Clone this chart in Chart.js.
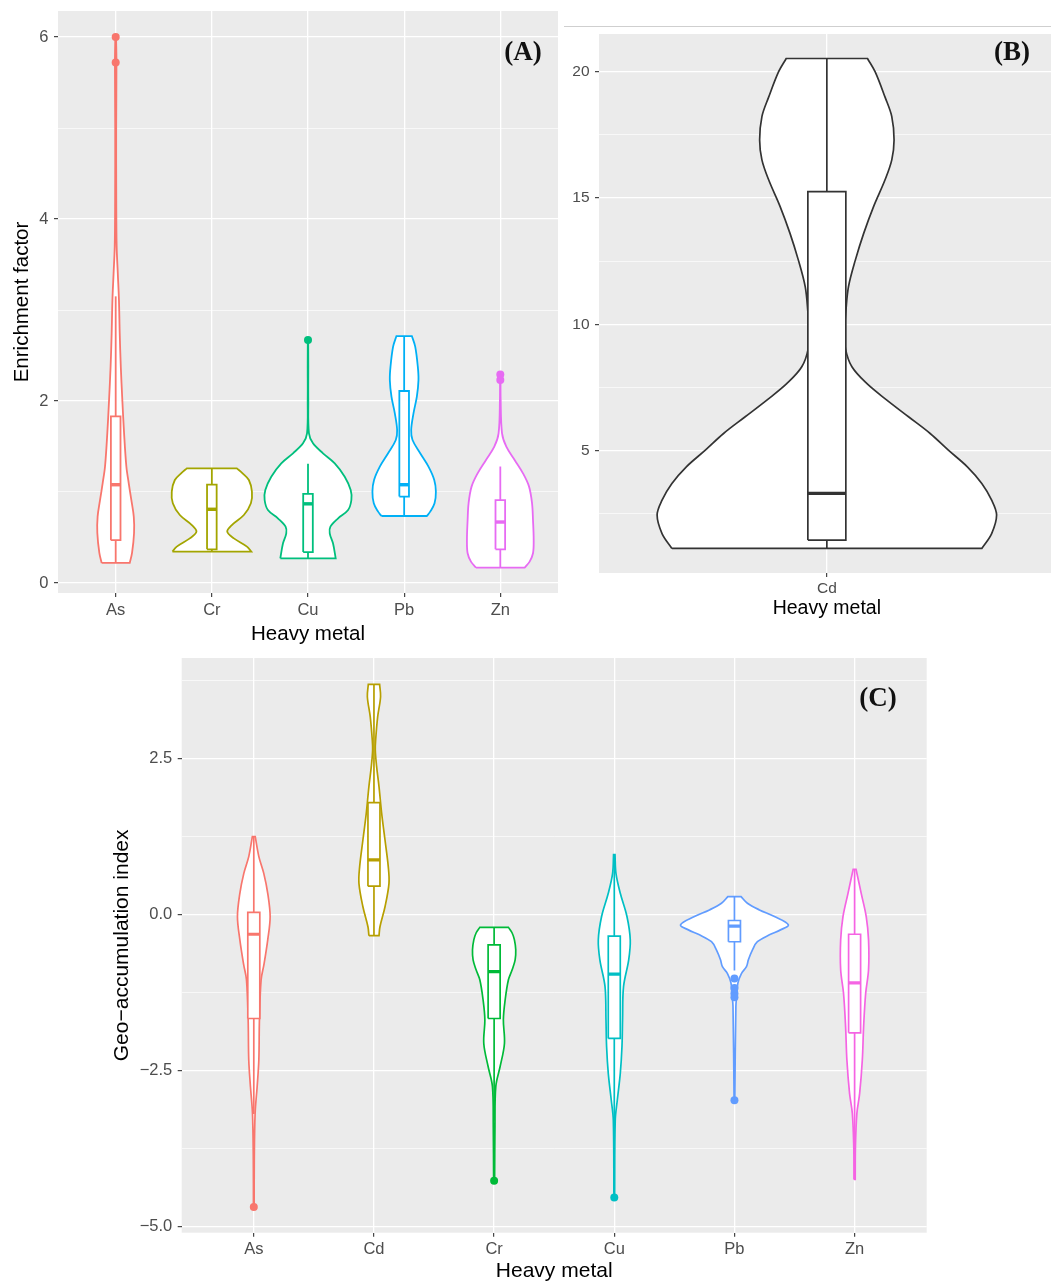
<!DOCTYPE html>
<html>
<head>
<meta charset="utf-8">
<title>Heavy metal enrichment and geo-accumulation</title>
<script src="https://cdn.jsdelivr.net/npm/chart.js@4.4.1/dist/chart.umd.min.js"></script>
<style>
  html, body { margin: 0; padding: 0; background: #ffffff; overflow: hidden; width: 1051px; height: 1284px; }
  canvas.panel { position: absolute; }
  #topRule { position: absolute; left: 564px; top: 26px; width: 487px; height: 1px; background: #cfcfcf; }
</style>
</head>
<body>
<canvas id="efChart" class="panel" width="570" height="647" style="left:0;top:0;width:570px;height:647px"></canvas>
<canvas id="cdChart" class="panel" width="500" height="625" style="left:560px;top:0;width:500px;height:625px"></canvas>
<div id="topRule"></div>
<canvas id="igeoChart" class="panel" width="860" height="644" style="left:100px;top:640px;width:860px;height:644px"></canvas>
<script>
// ---------- (A) Enrichment factor ----------
const efMetals = ['As', 'Cr', 'Cu', 'Pb', 'Zn'];
const efColors = ['#F8766D', '#A3A500', '#00BF7D', '#00B0F6', '#E76BF3'];
const efTicks = [0, 2, 4, 6];
const efTickLabels = ['0', '2', '4', '6'];
const efMinorTicks = [1, 3, 5];
const efQ1 = [0.47, 0.37, 0.34, 0.95, 0.37];
const efMedian = [1.08, 0.81, 0.87, 1.08, 0.67];
const efQ3 = [1.83, 1.08, 0.98, 2.11, 0.91];
const efWhiskerLow = [0.23, 0.345, 0.27, 0.736, 0.17];
const efWhiskerHigh = [3.15, 1.26, 1.31, 2.71, 1.28];
const efOutliers = [[5.72, 6.0], [], [2.67], [], [2.23, 2.29]];
// kernel density outline: [value, half-width in category units]
const efDensityAs = [[0.22, 0.146], [0.33, 0.170], [0.55, 0.191], [0.73, 0.188], [0.91, 0.163], [1.10, 0.135], [1.28, 0.111], [1.65, 0.087], [2.01, 0.069], [2.38, 0.053], [2.74, 0.042], [3.11, 0.034], [3.40, 0.022], [3.70, 0.010], [4.20, 0.006], [5.00, 0.005], [5.72, 0.008], [6.00, 0.004]];
const efDensityCr = [[0.345, 0.41], [0.40, 0.365], [0.49, 0.229], [0.564, 0.16], [0.637, 0.208], [0.747, 0.333], [0.876, 0.406], [1.004, 0.417], [1.132, 0.385], [1.205, 0.32], [1.26, 0.26]];
const efDensityCu = [[0.27, 0.288], [0.436, 0.26], [0.546, 0.226], [0.62, 0.233], [0.711, 0.313], [0.802, 0.417], [0.912, 0.451], [1.022, 0.444], [1.168, 0.382], [1.315, 0.278], [1.425, 0.156], [1.535, 0.052], [1.645, 0.010], [2.01, 0.003], [2.40, 0.003], [2.67, 0.002]];
const efDensityPb = [[0.736, 0.236], [0.784, 0.271], [0.876, 0.316], [1.004, 0.33], [1.132, 0.313], [1.278, 0.253], [1.425, 0.167], [1.571, 0.087], [1.681, 0.073], [1.864, 0.097], [2.048, 0.132], [2.231, 0.149], [2.377, 0.142], [2.597, 0.115], [2.714, 0.08]];
const efDensityZn = [[0.169, 0.253], [0.235, 0.305], [0.327, 0.34], [0.473, 0.347], [0.692, 0.34], [0.876, 0.33], [1.059, 0.299], [1.205, 0.236], [1.352, 0.149], [1.498, 0.0625], [1.645, 0.018], [2.01, 0.004], [2.29, 0.003]];

// ---------- (B) Cd enrichment factor ----------
const cdMetals = ['Cd'];
const cdColors = ['#333333'];
const cdTicks = [5, 10, 15, 20];
const cdTickLabels = ['5', '10', '15', '20'];
const cdMinorTicks = [2.5, 7.5, 12.5, 17.5];
const cdQ1 = [1.46];
const cdMedian = [3.31];
const cdQ3 = [15.25];
const cdWhiskerLow = [1.13];
const cdWhiskerHigh = [20.52];
const cdOutliers = [[]];
const cdDensity = [[1.13, 0.408], [1.72, 0.434], [2.45, 0.447], [3.04, 0.434], [3.70, 0.408], [4.36, 0.37], [5.02, 0.32], [5.68, 0.272], [6.34, 0.215], [7.0, 0.158], [7.66, 0.105], [8.32, 0.066], [9.04, 0.049], [9.77, 0.047], [10.5, 0.05], [11.49, 0.057], [12.54, 0.075], [13.6, 0.097], [14.66, 0.123], [15.71, 0.153], [16.51, 0.171], [17.29, 0.177], [18.22, 0.171], [19.0, 0.153], [20.0, 0.127], [20.52, 0.107]];

// ---------- (C) Geo-accumulation index ----------
const igeoMetals = ['As', 'Cd', 'Cr', 'Cu', 'Pb', 'Zn'];
const igeoColors = ['#F8766D', '#B79F00', '#00BA38', '#00BFC4', '#619CFF', '#F564E3'];
const igeoTicks = [-5, -2.5, 0, 2.5];
const igeoTickLabels = ['\u22125.0', '\u22122.5', '0.0', '2.5'];
const igeoMinorTicks = [-3.75, -1.25, 1.25, 3.75];
const igeoQ1 = [-1.67, 0.45, -1.67, -1.99, -0.44, -1.90];
const igeoMedian = [-0.32, 0.87, -0.92, -0.96, -0.19, -1.10];
const igeoQ3 = [0.03, 1.79, -0.49, -0.35, -0.10, -0.32];
const igeoWhiskerLow = [-3.2, -0.34, -3.3, -3.4, -0.9, -4.25];
const igeoWhiskerHigh = [1.24, 3.69, -0.21, 0.95, 0.28, 0.72];
const igeoOutliers = [[-4.69], [], [-4.27], [-4.54], [-1.03, -1.18, -1.27, -1.33, -2.98], []];
const igeoDensityAs = [[-4.69, 0.003], [-3.94, 0.004], [-3.19, 0.011], [-2.76, 0.028], [-2.33, 0.042], [-1.69, 0.047], [-1.05, 0.061], [-0.80, 0.085], [-0.41, 0.116], [-0.04, 0.136], [0.336, 0.116], [0.656, 0.083], [0.924, 0.042], [1.245, 0.012]];
const igeoDensityCd = [[-0.342, 0.042], [-0.2, 0.05], [0.12, 0.092], [0.496, 0.125], [0.764, 0.119], [1.19, 0.092], [1.619, 0.064], [2.046, 0.042], [2.369, 0.022], [2.633, 0.011], [2.793, 0.014], [3.167, 0.031], [3.487, 0.055], [3.685, 0.047]];
const igeoDensityCr = [[-4.27, 0.004], [-3.40, 0.007], [-2.76, 0.014], [-2.44, 0.05], [-2.07, 0.086], [-1.69, 0.077], [-1.37, 0.092], [-1.05, 0.119], [-0.89, 0.15], [-0.73, 0.175], [-0.57, 0.18], [-0.41, 0.169], [-0.30, 0.15], [-0.21, 0.119]];
const igeoDensityCu = [[-4.54, 0.003], [-3.30, 0.008], [-2.98, 0.025], [-2.55, 0.05], [-2.12, 0.064], [-1.69, 0.069], [-1.16, 0.077], [-0.73, 0.12], [-0.41, 0.133], [-0.04, 0.106], [0.336, 0.05], [0.656, 0.014], [0.955, 0.006]];
const igeoDensityPb = [[-2.98, 0.003], [-1.48, 0.012], [-1.27, 0.021], [-1.10, 0.029], [-0.95, 0.058], [-0.84, 0.1], [-0.73, 0.116], [-0.57, 0.15], [-0.44, 0.191], [-0.33, 0.291], [-0.25, 0.383], [-0.17, 0.449], [-0.037, 0.333], [0.07, 0.208], [0.177, 0.108], [0.283, 0.055]];
const igeoDensityZn = [[-4.25, 0.005], [-3.72, 0.007], [-3.19, 0.019], [-2.87, 0.042], [-2.34, 0.064], [-1.80, 0.075], [-1.27, 0.092], [-0.89, 0.116], [-0.41, 0.116], [-0.04, 0.097], [0.336, 0.055], [0.721, 0.012]];

const FONT = '"Liberation Sans", Arial, Helvetica, sans-serif';
const BOX_HALF = 0.05;

// Closed outline of one violin around category index `center`.
// Corner points are repeated so the trimmed ends stay flat and square.
function violinOutline(center, profile) {
  const n = profile.length;
  const left = profile.map(([v, w]) => ({ x: center - w, y: v }));
  const right = profile.map(([v, w]) => ({ x: center + w, y: v })).reverse();
  return [left[0], ...left, left[n - 1], right[0], ...right, right[n - 1], left[0]];
}

// Grey panel background behind the grid.
const panelBg = {
  id: 'panelBg',
  beforeDraw(chart) {
    const { ctx, chartArea: a } = chart;
    ctx.save();
    ctx.fillStyle = '#EBEBEB';
    ctx.fillRect(a.left, a.top, a.right - a.left, a.bottom - a.top);
    ctx.restore();
  }
};

// White interior for closed shapes (violins and boxes), using the line element's own path.
const whiteFill = {
  id: 'whiteFill',
  beforeDatasetDraw(chart, args) {
    const ds = chart.data.datasets[args.index];
    if (!ds.closedShape) return;
    const line = args.meta.dataset;
    if (!line || !line.points || !line.points.length) return;
    const ctx = chart.ctx;
    line.updateControlPoints(chart.chartArea, 'x');
    ctx.save();
    ctx.beginPath();
    line.path(ctx);
    ctx.closePath();
    ctx.fillStyle = '#FFFFFF';
    ctx.fill();
    ctx.restore();
  }
};

// Bold panel letter in the upper right of the plotting area.
const panelTag = {
  id: 'panelTag',
  afterDraw(chart, args, opts) {
    if (!opts || !opts.text) return;
    const { ctx, chartArea: a } = chart;
    ctx.save();
    ctx.font = 'bold 27px "Liberation Serif", "DejaVu Serif", serif';
    ctx.fillStyle = '#111111';
    ctx.textAlign = 'center';
    ctx.textBaseline = 'middle';
    ctx.fillText(opts.text, a.right - opts.dx, a.top + opts.dy);
    ctx.restore();
  }
};

function buildDatasets(spec) {
  const datasets = [];
  spec.categories.forEach((name, i) => {
    const col = spec.colors[i];
    const lw = spec.lineWidth;
    datasets.push({
      label: name, data: violinOutline(i, spec.density[i]), showLine: true,
      borderColor: col, borderWidth: lw, pointRadius: 0, tension: 0.35, fill: false,
      closedShape: true, order: 5
    });
    const q1 = spec.q1[i], q3 = spec.q3[i];
    datasets.push({
      label: name + ' box',
      data: [{ x: i - BOX_HALF, y: q1 }, { x: i - BOX_HALF, y: q3 }, { x: i + BOX_HALF, y: q3 }, { x: i + BOX_HALF, y: q1 }, { x: i - BOX_HALF, y: q1 }],
      showLine: true, borderColor: col, borderWidth: lw, pointRadius: 0, tension: 0, fill: false,
      closedShape: true, order: 4
    });
    datasets.push({
      label: name + ' upper whisker', data: [{ x: i, y: q3 }, { x: i, y: spec.high[i] }],
      showLine: true, borderColor: col, borderWidth: lw, pointRadius: 0, fill: false, order: 3
    });
    datasets.push({
      label: name + ' lower whisker', data: [{ x: i, y: spec.low[i] }, { x: i, y: q1 }],
      showLine: true, borderColor: col, borderWidth: lw, pointRadius: 0, fill: false, order: 3
    });
    datasets.push({
      label: name + ' median', data: [{ x: i - BOX_HALF, y: spec.median[i] }, { x: i + BOX_HALF, y: spec.median[i] }],
      showLine: true, borderColor: col, borderWidth: lw * 1.9, pointRadius: 0, fill: false, order: 2
    });
    if (spec.outliers[i].length) {
      datasets.push({
        label: name + ' outliers', data: spec.outliers[i].map(v => ({ x: i, y: v })),
        showLine: false, pointRadius: 4, pointBackgroundColor: col, pointBorderWidth: 0, order: 1
      });
    }
  });
  return datasets;
}

function buildScales(spec) {
  const minorSet = new Set(spec.yMinor);
  const yAll = [...spec.yTicks, ...spec.yMinor].sort((a, b) => a - b);
  const isMinor = c => !!(c.tick && minorSet.has(c.tick.value));
  return {
    x: {
      type: 'linear', min: -0.6, max: spec.categories.length - 1 + 0.6,
      afterBuildTicks: s => { s.ticks = spec.categories.map((_, i) => ({ value: i })); },
      afterFit: s => { s.height = spec.xAxisHeight; s.paddingLeft = 0; s.paddingRight = 0; },
      ticks: {
        autoSkip: false, maxRotation: 0, minRotation: 0, padding: spec.xTickPad,
        color: '#4D4D4D', font: { family: FONT, size: spec.tickSize },
        callback: v => spec.categories[v]
      },
      grid: { color: '#FFFFFF', lineWidth: 1.3, drawTicks: true, tickLength: 4, tickColor: '#333333', tickWidth: 1.1 },
      border: { display: false },
      title: {
        display: true, text: 'Heavy metal', color: '#000000',
        font: { family: FONT, size: spec.titleSize }, padding: { top: 0, bottom: spec.xTitlePad }
      }
    },
    y: {
      type: 'linear', min: spec.yMin, max: spec.yMax,
      afterBuildTicks: s => { s.ticks = yAll.map(v => ({ value: v })); },
      afterFit: s => { s.width = spec.yAxisWidth; s.paddingTop = 0; s.paddingBottom = 0; },
      ticks: {
        autoSkip: false, padding: 5.5, color: '#4D4D4D', font: { family: FONT, size: spec.tickSize },
        callback: v => { const k = spec.yTicks.indexOf(v); return k >= 0 ? spec.yTickLabels[k] : ''; }
      },
      grid: {
        color: '#FFFFFF', lineWidth: c => isMinor(c) ? 0.65 : 1.3, drawTicks: true, tickLength: 4,
        tickColor: c => isMinor(c) ? 'rgba(0,0,0,0)' : '#333333', tickWidth: 1.1
      },
      border: { display: false },
      title: spec.yTitle ? {
        display: true, text: spec.yTitle, color: '#000000',
        font: { family: FONT, size: spec.titleSize }, padding: { top: spec.yTitlePad, bottom: 0 }
      } : { display: false }
    }
  };
}

function drawPanel(canvasId, spec) {
  return new Chart(document.getElementById(canvasId), {
    type: 'scatter',
    data: { datasets: buildDatasets(spec) },
    options: {
      responsive: false, animation: false, devicePixelRatio: 1, events: [],
      layout: { padding: spec.padding },
      scales: buildScales(spec),
      plugins: { legend: { display: false }, tooltip: { enabled: false }, panelTag: spec.tag }
    },
    plugins: [panelBg, whiteFill, panelTag]
  });
}

drawPanel('efChart', {
  categories: efMetals, colors: efColors, lineWidth: 1.8,
  density: [efDensityAs, efDensityCr, efDensityCu, efDensityPb, efDensityZn],
  q1: efQ1, median: efMedian, q3: efQ3, low: efWhiskerLow, high: efWhiskerHigh, outliers: efOutliers,
  yMin: -0.11, yMax: 6.286, yTicks: efTicks, yTickLabels: efTickLabels, yMinor: efMinorTicks,
  yTitle: 'Enrichment factor', yTitlePad: 9.7, yAxisWidth: 58, xAxisHeight: 54,
  tickSize: 16.5, titleSize: 20.5, xTickPad: 3.6, xTitlePad: 0,
  padding: { top: 11, right: 12, left: 0, bottom: 0 },
  tag: { text: '(A)', dx: 35, dy: 42 }
});

drawPanel('cdChart', {
  categories: cdMetals, colors: cdColors, lineWidth: 1.7,
  density: [cdDensity],
  q1: cdQ1, median: cdMedian, q3: cdQ3, low: cdWhiskerLow, high: cdWhiskerHigh, outliers: cdOutliers,
  yMin: 0.158, yMax: 21.49, yTicks: cdTicks, yTickLabels: cdTickLabels, yMinor: cdMinorTicks,
  yTitle: null, yAxisWidth: 39, xAxisHeight: 52,
  tickSize: 15.5, titleSize: 19.5, xTickPad: 2, xTitlePad: 4.3,
  padding: { top: 34, right: 5.3, left: 0, bottom: 0 },
  tag: { text: '(B)', dx: 42.7, dy: 19.5 }
});

drawPanel('igeoChart', {
  categories: igeoMetals, colors: igeoColors, lineWidth: 1.7,
  density: [igeoDensityAs, igeoDensityCd, igeoDensityCr, igeoDensityCu, igeoDensityPb, igeoDensityZn],
  q1: igeoQ1, median: igeoMedian, q3: igeoQ3, low: igeoWhiskerLow, high: igeoWhiskerHigh, outliers: igeoOutliers,
  yMin: -5.103, yMax: 4.107, yTicks: igeoTicks, yTickLabels: igeoTickLabels, yMinor: igeoMinorTicks,
  yTitle: 'Geo\u2212accumulation index', yTitlePad: 9.9, yAxisWidth: 81.7, xAxisHeight: 51.3,
  tickSize: 16.5, titleSize: 21, xTickPad: 2.4, xTitlePad: 0,
  padding: { top: 18, right: 33.3, left: 0, bottom: 0 },
  tag: { text: '(C)', dx: 48.7, dy: 41 }
});
</script>
</body>
</html>
